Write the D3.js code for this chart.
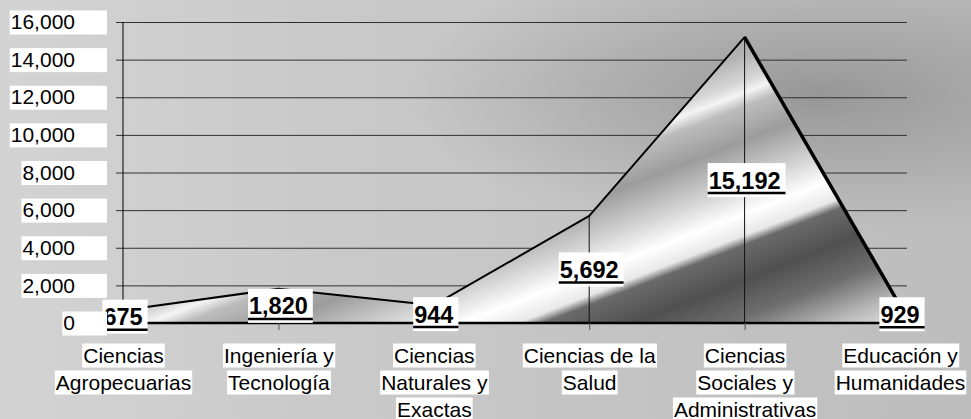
<!DOCTYPE html>
<html>
<head>
<meta charset="utf-8">
<script src="https://cdn.jsdelivr.net/npm/d3@7"></script>
<style>
  html, body { margin: 0; padding: 0; }
  svg { display: block; font-family: "Liberation Sans", Arial, sans-serif; }
</style>
</head>
<body>
<svg id="chart" width="971" height="419"></svg>
<script>
"use strict"

// data
var categories = [
    "Ciencias\nAgropecuarias",
    "Ingeniería y\nTecnología",
    "Ciencias\nNaturales y\nExactas",
    "Ciencias de la\nSalud",
    "Ciencias\nSociales y\nAdministrativas",
    "Educación y\nHumanidades"
];
var values = [675, 1820, 944, 5692, 15192, 929];
var yTicks = [0, 2000, 4000, 6000, 8000, 10000, 12000, 14000, 16000];

var svg = d3.select("#chart"),
    W = +svg.attr("width"),
    H = +svg.attr("height");

var margin = { top: 22, left: 123, bottom: 96 };
var plotRight = 907;

var x = d3.scalePoint()
    .domain(categories)
    .range([margin.left, 900]);

var y = d3.scaleLinear()
    .domain([0, 16000])
    .range([H - margin.bottom, margin.top]);

var fmt = d3.format(",");

var defs = svg.append("defs");

// background: light on the left, darker on the right
var bg = defs.append("linearGradient")
    .attr("id", "bg")
    .attr("x1", 0).attr("y1", 0).attr("x2", 1).attr("y2", 0);
bg.append("stop").attr("offset", 0).attr("stop-color", "#d3d3d3");
bg.append("stop").attr("offset", 0.35).attr("stop-color", "#c9c9c9");
bg.append("stop").attr("offset", 1).attr("stop-color", "#bdbdbd");

var shade = defs.append("radialGradient")
    .attr("id", "shade")
    .attr("gradientUnits", "userSpaceOnUse")
    .attr("cx", 820).attr("cy", 95).attr("r", 420)
    .attr("gradientTransform", "translate(820,95) scale(1,0.33) translate(-820,-95)");
shade.append("stop").attr("offset", 0).attr("stop-color", "#8f8f8f").attr("stop-opacity", 0.85);
shade.append("stop").attr("offset", 0.55).attr("stop-color", "#9a9a9a").attr("stop-opacity", 0.45);
shade.append("stop").attr("offset", 1).attr("stop-color", "#a0a0a0").attr("stop-opacity", 0);

// metallic fill of the area, bands running up to the right
var metal = defs.append("linearGradient")
    .attr("id", "metal")
    .attr("gradientUnits", "userSpaceOnUse")
    .attr("x1", 101).attr("y1", 261)
    .attr("x2", 231).attr("y2", 597);
[
    [0.000, "#a0a0a0"],
    [0.111, "#b4b4b4"],
    [0.180, "#d8d8d8"],
    [0.208, "#f4f4f4"],
    [0.244, "#bcbcbc"],
    [0.333, "#9c9c9c"],
    [0.444, "#d4d4d4"],
    [0.522, "#ffffff"],
    [0.578, "#e8e8e8"],
    [0.603, "#6a6a6a"],
    [0.694, "#505050"],
    [0.790, "#6e6e6e"],
    [0.889, "#b8b8b8"],
    [0.972, "#e8e8e8"]
].forEach(function(s) {
    metal.append("stop").attr("offset", s[0]).attr("stop-color", s[1]);
});

svg.append("rect").attr("width", W).attr("height", H).attr("fill", "url(#bg)");
svg.append("rect").attr("width", W).attr("height", H).attr("fill", "url(#shade)");

// horizontal gridlines
var grid = svg.append("g")
    .attr("transform", "translate(" + margin.left + ",0)")
    .call(d3.axisLeft(y).tickValues(yTicks).tickSize(-(plotRight - margin.left)).tickFormat(""));
grid.select(".domain").remove();
grid.selectAll(".tick line")
    .attr("x1", -7)
    .attr("stroke", "#303030")
    .attr("stroke-width", 1);

// area
var area = d3.area()
    .x(function(d, i) { return x(categories[i]); })
    .y0(y(0))
    .y1(function(d) { return y(d); });

svg.append("path")
    .datum(values)
    .attr("d", area)
    .attr("fill", "url(#metal)");

// drop lines
svg.append("g")
    .selectAll("line")
    .data(values)
    .join("line")
    .attr("x1", function(d, i) { return x(categories[i]); })
    .attr("x2", function(d, i) { return x(categories[i]); })
    .attr("y1", function(d) { return y(d); })
    .attr("y2", y(0))
    .attr("stroke", "#111")
    .attr("stroke-width", 1);

var line = d3.line()
    .x(function(d, i) { return x(categories[i]); })
    .y(function(d) { return y(d); });

svg.append("path")
    .datum(values)
    .attr("d", line)
    .attr("fill", "none")
    .attr("stroke", "#000")
    .attr("stroke-width", 2)
    .attr("stroke-linejoin", "round");

// the falling edge is drawn heavier
var n = values.length;
svg.append("path")
    .datum(values.slice(n - 2))
    .attr("d", d3.line()
        .x(function(d, i) { return x(categories[n - 2 + i]); })
        .y(function(d) { return y(d); }))
    .attr("fill", "none")
    .attr("stroke", "#000")
    .attr("stroke-width", 3.5);

// baseline and value axis line
svg.append("line")
    .attr("x1", x(categories[0])).attr("x2", x(categories[n - 1]))
    .attr("y1", y(0)).attr("y2", y(0))
    .attr("stroke", "#000").attr("stroke-width", 2.5);

svg.append("line")
    .attr("x1", margin.left).attr("x2", margin.left)
    .attr("y1", y(16000)).attr("y2", y(0))
    .attr("stroke", "#000").attr("stroke-width", 1);

// category axis
var xAxis = svg.append("g")
    .attr("transform", "translate(0," + y(0) + ")")
    .call(d3.axisBottom(x).tickSize(7).tickFormat(""));
xAxis.select(".domain").remove();
xAxis.selectAll(".tick line").attr("stroke", "#555");

xAxis.selectAll(".tick").each(function(d) {
    var g = d3.select(this);
    d.split("\n").forEach(function(txt, i) {
        var base = 40 + i * 27;
        var t = g.append("text")
            .attr("y", base)
            .attr("text-anchor", "middle")
            .attr("font-size", 21)
            .attr("fill", "#000")
            .text(txt);
        var b = t.node().getBBox();
        g.insert("rect", function() { return t.node(); })
            .attr("x", b.x - 1)
            .attr("y", base - 19.5)
            .attr("width", b.width + 2)
            .attr("height", 24)
            .attr("fill", "#fff");
    });
});

// data labels, centred in the area height
var labels = svg.append("g");
values.forEach(function(v, i) {
    var cx = x(categories[i]),
        cy = y(v / 2),
        base = cy + 8.5;
    var g = labels.append("g");
    var t = g.append("text")
        .attr("x", cx)
        .attr("y", base)
        .attr("text-anchor", "middle")
        .attr("font-size", 23.5)
        .attr("font-weight", "bold")
        .attr("fill", "#000")
        .text(fmt(v));
    var w = t.node().getComputedTextLength(),
        left = cx - w / 2;
    g.insert("rect", "text")
        .attr("x", left - 1)
        .attr("y", cy - 17)
        .attr("width", w + 6)
        .attr("height", 34)
        .attr("fill", "#fff");
    g.append("line")
        .attr("x1", left - 1).attr("x2", left + w + 5)
        .attr("y1", base + 4.5).attr("y2", base + 4.5)
        .attr("stroke", "#000").attr("stroke-width", 2.5);
});

// value axis labels on top
var yAxis = svg.append("g")
    .attr("transform", "translate(" + margin.left + ",0)")
    .call(d3.axisLeft(y).tickValues(yTicks).tickSize(0).tickPadding(48).tickFormat(fmt));
yAxis.select(".domain").remove();
yAxis.selectAll(".tick text")
    .attr("font-size", 21)
    .attr("font-family", "Liberation Sans, Arial, sans-serif")
    .attr("fill", "#000");
yAxis.selectAll(".tick").each(function() {
    var g = d3.select(this),
        t = g.select("text"),
        b = t.node().getBBox();
    g.insert("rect", "text")
        .attr("x", b.x - 1)
        .attr("y", -12)
        .attr("width", -16 - (b.x - 1))
        .attr("height", 24)
        .attr("fill", "#fff");
});
</script>
</body>
</html>
